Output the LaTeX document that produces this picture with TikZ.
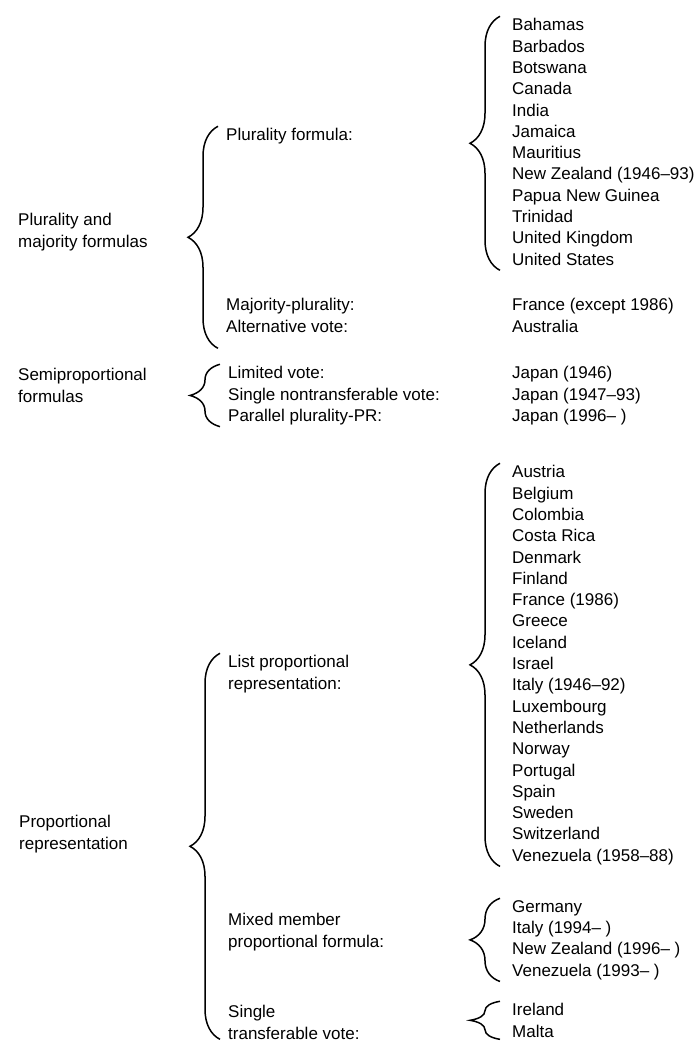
\documentclass[tikz,border=0pt]{standalone}
\usepackage{fontspec}
\setmainfont{Liberation Sans}
\usetikzlibrary{decorations.pathreplacing}
\begin{document}
\begin{tikzpicture}[x=1pt,y=-1pt,
    txt/.style={anchor=north west,align=left,inner xsep=0pt,inner ysep=2pt,
      text depth=3pt,font=\fontsize{17}{21.3}\selectfont},
    brc/.style={decorate,decoration={brace,amplitude=30pt},line width=1.5pt}]
  \useasboundingbox (0,0) rectangle (700,1041);
  % classes
  \node[txt] (pmclass) at (18,211.3) {Plurality and\\majority formulas};
  \node[txt] (spclass) at (18,366.3) {Semiproportional\\formulas};
  \node[txt] (prclass) at (19,813.3) {Proportional\\representation};
  % formulas
  \node[txt] (pform) at (226,126.3) {Plurality formula:};
  \node[txt] (mform) at (226,296.3) {Majority-plurality:\\Alternative vote:};
  \node[txt] (sform) at (228,364.3) {Limited vote:\\Single nontransferable vote:\\Parallel plurality-PR:};
  \node[txt] (lform) at (228,653.3) {List proportional\\representation:};
  \node[txt] (mmform) at (228,911.3) {Mixed member\\proportional formula:};
  \node[txt,inner ysep=0pt,text depth=0pt] (stform) at (228,1005.3) {Single\\transferable vote:};
  % countries
  \node[txt] (pfland) at (512,16.3) {Bahamas\\Barbados\\Botswana\\Canada\\India\\Jamaica\\Mauritius\\New Zealand (1946--93)\\Papua New Guinea\\Trinidad\\United Kingdom\\United States};
  \node[txt] (mjland) at (512,296.3) {France (except 1986)\\Australia};
  \node[txt] (spland) at (512,364.3) {Japan (1946)\\Japan (1947--93)\\Japan (1996-- )};
  \node[txt] (lpland) at (512,463.3) {Austria\\Belgium\\Colombia\\Costa Rica\\Denmark\\Finland\\France (1986)\\Greece\\Iceland\\Israel\\Italy (1946--92)\\Luxembourg\\Netherlands\\Norway\\Portugal\\Spain\\Sweden\\Switzerland\\Venezuela (1958--88)};
  \node[txt] (mmland) at (512,898.3) {Germany\\Italy (1994-- )\\New Zealand (1996-- )\\Venezuela (1993-- )};
  \node[txt,text depth=0pt] (stland) at (512,1001.3) {Ireland\\Malta};
  % braces
  \draw[brc] ([xshift=-8pt,yshift=-11pt]mform.south west) -- ([xshift=-8pt]pform.north west);
  \draw[brc] ([xshift=-8pt]sform.south west) -- ([xshift=-8pt]sform.north west);
  \draw[brc] ([xshift=-8pt]stform.south west) -- ([xshift=-8pt]lform.north west);
  \draw[brc] ([xshift=-12pt]pfland.south west) -- ([xshift=-12pt]pfland.north west);
  \draw[brc] ([xshift=-12pt]lpland.south west) -- ([xshift=-12pt]lpland.north west);
  \draw[brc] ([xshift=-12pt]mmland.south west) -- ([xshift=-12pt]mmland.north west);
  \draw[brc] ([xshift=-12pt]stland.south west) -- ([xshift=-12pt]stland.north west);
\end{tikzpicture}
\end{document}
